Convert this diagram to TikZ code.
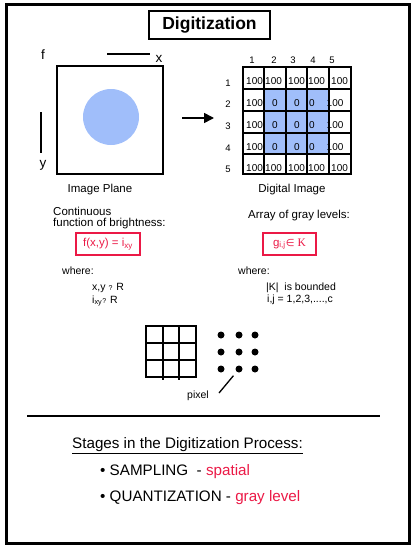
\documentclass[tikz,border=0pt]{standalone}
\usepackage{fontspec}
\setmainfont{Liberation Sans}
\newfontfamily\djv{DejaVu Sans}
\newfontfamily\serifk{Liberation Serif}
\usetikzlibrary{arrows.meta,calc}
\definecolor{myred}{RGB}{235,25,70}
\definecolor{myblue}{RGB}{160,190,250}
\tikzset{
  txt/.style={inner sep=0pt, font=\fontsize{11.5}{13}\selectfont},
  smalltxt/.style={inner sep=0pt, font=\fontsize{10.5}{12}\selectfont},
  celltxt/.style={inner sep=0pt, anchor=west, font=\fontsize{10}{12}\selectfont},
  idxtxt/.style={inner sep=0pt, font=\fontsize{9.5}{11}\selectfont},
  axtxt/.style={inner sep=0pt, font=\fontsize{13.5}{15}\selectfont},
  bigtxt/.style={inner sep=0pt, anchor=base west, font=\fontsize{15.2}{18}\selectfont},
  redbox/.style={draw=myred, line width=1.8pt, text=myred, minimum height=22pt, inner sep=0pt, font=\fontsize{11.5}{13}\selectfont},
  gridline/.style={line width=2.5pt},
  dot/.style={circle, fill=black, minimum size=7pt, inner sep=0pt}
}
\begin{document}
\begin{tikzpicture}[x=1pt,y=-1pt]
\useasboundingbox (0,0) rectangle (411,546);
\draw[line width=3pt] (6,4) rectangle (409,543);
\node[draw, line width=2pt, minimum width=121pt, minimum height=28pt, inner sep=0pt,
      font=\fontsize{17.5}{20}\selectfont\bfseries] (title) at (209.5,25) {Digitization};

% image plane
\node[draw, line width=2pt, minimum width=106pt, minimum height=108pt] (plane) at (110,120) {};
\node[circle, fill=myblue, minimum size=56pt, inner sep=0pt] (disk) at (111,117) {};
\node[axtxt] (lf) at (43,55) {f};
\node[axtxt] (lx) at (159,59) {x};
\node[axtxt] (ly) at (43,165) {y};
\coordinate (xa) at (107,54); \coordinate (xb) at (150,54);
\coordinate (ya) at (41,112); \coordinate (yb) at (41,153);
\draw[line width=1.5pt] (xa) -- (xb);
\draw[line width=1.5pt] (ya) -- (yb);
\node[txt] (planelbl) at (100,190) {Image Plane};

% arrow
\coordinate (arrS) at (182,118); \coordinate (arrE) at (214,118);
\draw[line width=1.6pt, -{Triangle[length=10pt,width=10pt]}] (arrS) -- (arrE);

% digital image grid
\fill[myblue] (264,89) rectangle (329,154);
\foreach \y in {81,168}{
  \node[celltxt] at (246,\y) {100};
  \node[celltxt] at (265,\y) {100};
  \node[celltxt] at (288,\y) {100};
  \node[celltxt] at (308,\y) {100};
  \node[celltxt] at (331,\y) {100};
}
\foreach \y in {103,125,147}{
  \node[celltxt] at (246,\y) {100};
  \node[celltxt] at (272,\y) {0};
  \node[celltxt] at (294,\y) {0};
  \node[celltxt] at (309,\y) {0};
  \node[celltxt] at (326.5,\y) {100};
}
\foreach \x in {264,286,307,329}
  \draw[gridline] (\x,67) -- (\x,174);
\foreach \y in {89,111,133,154}
  \draw[gridline] (243,\y) -- (351,\y);
\draw[gridline] (243,67) rectangle (351,174);
\node[minimum width=108pt, minimum height=107pt] (grid) at (297,120.5) {};
\foreach \x/\n in {252/1,274/2,293/3,313/4,332/5}
  \node[idxtxt] at (\x,60) {\n};
\foreach \y/\n in {83/1,104/2,126/3,148/4,169/5}
  \node[idxtxt] at (228,\y) {\n};
\node[txt] (diglbl) at (292,190) {Digital Image};

% left text
\node[txt, anchor=west] (cont) at (53,211) {Continuous};
\node[txt, anchor=west] (func) at (53,224) {function of brightness:};
\node[redbox, minimum width=64pt] (fbox) at (108,244) {f(x,y) = i\textsubscript{xy}};
\node[smalltxt, anchor=west] (wl) at (62,271) {where:};
\node[smalltxt, anchor=west] (xyR) at (92,288) {x,y {\scriptsize ?} R};
\node[smalltxt, anchor=west] (iR) at (92,301) {i\textsubscript{xy}{\scriptsize ?} R};

% right text
\node[txt, anchor=west] (arr) at (248,216) {Array of gray levels:};
\node[redbox, minimum width=53pt] (gbox) at (289.5,244) {g\textsubscript{i,j}{\djv\fontsize{10}{12}\selectfont ∈} {\serifk K}};
\node[smalltxt, anchor=west] (wr) at (238,271) {where:};
\node[smalltxt, anchor=west] (kb) at (266,288) {|K|~ is bounded};
\node[smalltxt, anchor=west] (ij) at (267,300) {i,j = 1,2,3,....,c};

% small grid and dots
\draw[line width=1.8pt] (146,326) rectangle (196,377);
\draw[line width=1.8pt] (162.7,326) -- (162.7,380);
\draw[line width=1.8pt] (179.3,326) -- (179.3,380);
\draw[line width=1.8pt] (146,343) -- (196,343);
\draw[line width=1.8pt] (146,360) -- (196,360);
\foreach \x/\i in {221/1,239/2,255/3}
  \foreach \y/\j in {335/1,352/2,369/3}
    \node[dot] (d\i\j) at (\x,\y) {};
\node[smalltxt] (pixlbl) at (198,396) {pixel};
\coordinate (pixend) at (219,393);
\draw[line width=1.3pt, shorten >=5pt] (pixend) -- (d23);

% separator and stages
\coordinate (sepL) at (27,416); \coordinate (sepR) at (380,416);
\draw[line width=2pt] (sepL) -- (sepR);
\node[bigtxt] (stages) at (72,448.5) {\underline{Stages in the Digitization Process:}};
\node[bigtxt] (samp) at (100,475.4) {• SAMPLING~ - {\color{myred}spatial}};
\node[bigtxt] (quant) at (100,501.4) {• QUANTIZATION - {\color{myred}gray level}};
\end{tikzpicture}
\end{document}
